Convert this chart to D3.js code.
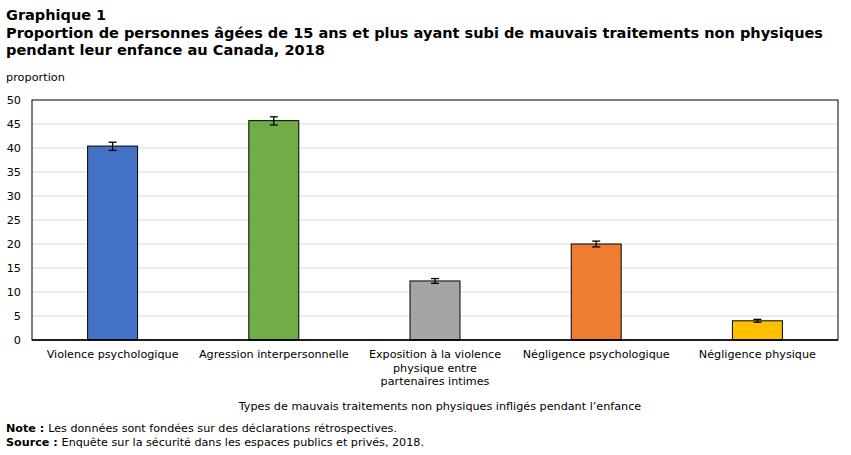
<!DOCTYPE html>
<html><head><meta charset="utf-8">
<script src="https://cdn.jsdelivr.net/npm/d3@7"></script>
<style>body{margin:0;background:#fff;} text{font-family:"DejaVu Sans",Verdana,sans-serif;fill:#000;}</style>
</head><body>
<svg id="c" width="851" height="455"></svg>
<script>
const categories = ["Violence psychologique","Agression interpersonnelle","Exposition à la violence|physique entre|partenaires intimes","Négligence psychologique","Négligence physique"];
const values = [40.4, 45.7, 12.3, 20.0, 4.0];
const errLow = [39.5, 44.8, 11.8, 19.4, 3.7];
const errHigh = [41.2, 46.5, 12.8, 20.6, 4.3];
const colors = ["#4472c4","#70ad47","#a5a5a5","#ed7d31","#ffc000"];
const yTicks = [0,5,10,15,20,25,30,35,40,45,50];

const svg = d3.select("#c");
const L=32, R=838, T=100, B=340;
const x = d3.scaleBand().domain(d3.range(categories.length)).range([L,R]).paddingInner(0.69).paddingOuter(0.345);
const y = d3.scaleLinear().domain([0,50]).range([B,T]);

// titles
svg.append("text").attr("x",6).attr("y",20).attr("font-size",14.5).attr("font-weight","bold").text("Graphique 1");
svg.append("text").attr("x",6).attr("y",38).attr("font-size",14.5).attr("font-weight","bold").attr("textLength",817).attr("lengthAdjust","spacingAndGlyphs").text("Proportion de personnes âgées de 15 ans et plus ayant subi de mauvais traitements non physiques");
svg.append("text").attr("x",6).attr("y",55).attr("font-size",14.5).attr("font-weight","bold").attr("textLength",319).attr("lengthAdjust","spacingAndGlyphs").text("pendant leur enfance au Canada, 2018");
svg.append("text").attr("x",6).attr("y",81).attr("font-size",11.3).text("proportion");

// gridlines
svg.append("g").selectAll("line").data(yTicks.filter(d=>d>0&&d<50)).join("line")
  .attr("x1",L).attr("x2",R).attr("y1",d=>y(d)).attr("y2",d=>y(d)).attr("stroke","#d9d9d9").attr("stroke-width",1);

// y axis labels
const ya = svg.append("g").attr("transform",`translate(${L},0)`).call(d3.axisLeft(y).tickValues(yTicks).tickSize(0).tickPadding(11));
ya.select(".domain").remove();
ya.selectAll("text").attr("font-size",11.3).attr("font-family","DejaVu Sans");

// bars
svg.append("g").selectAll("rect").data(values).join("rect")
  .attr("x",(d,i)=>x(i)).attr("width",x.bandwidth()).attr("y",d=>y(d)).attr("height",d=>B-y(d))
  .attr("fill",(d,i)=>colors[i]).attr("stroke","#000").attr("stroke-width",1);

// error bars
const eg = svg.append("g").attr("stroke","#000").attr("stroke-width",1.3);
values.forEach((v,i)=>{
  const cx = x(i)+x.bandwidth()/2;
  eg.append("line").attr("x1",cx).attr("x2",cx).attr("y1",y(errLow[i])).attr("y2",y(errHigh[i]));
  eg.append("line").attr("x1",cx-4).attr("x2",cx+4).attr("y1",y(errLow[i])).attr("y2",y(errLow[i]));
  eg.append("line").attr("x1",cx-4).attr("x2",cx+4).attr("y1",y(errHigh[i])).attr("y2",y(errHigh[i]));
});

// frame
svg.append("rect").attr("x",L).attr("y",T).attr("width",R-L).attr("height",B-T).attr("fill","none").attr("stroke","#000").attr("stroke-width",1);
svg.append("line").attr("x1",L).attr("x2",R).attr("y1",B).attr("y2",B).attr("stroke","#000").attr("stroke-width",1.5);

// x labels
const xg = svg.append("g");
categories.forEach((c,i)=>{
  const cx = x(i)+x.bandwidth()/2;
  const t = xg.append("text").attr("x",cx).attr("y",358).attr("text-anchor","middle").attr("font-size",11.2);
  c.split("|").forEach((ln,j)=>t.append("tspan").attr("x",cx).attr("dy",j?13.5:0).text(ln));
});

svg.append("text").attr("x",440).attr("y",410).attr("text-anchor","middle").attr("font-size",11.2).text("Types de mauvais traitements non physiques infligés pendant l’enfance");

const n1 = svg.append("text").attr("x",6).attr("y",432).attr("font-size",10.8).attr("textLength",391).attr("lengthAdjust","spacingAndGlyphs");
n1.append("tspan").attr("font-weight","bold").text("Note : ");
n1.append("tspan").text("Les données sont fondées sur des déclarations rétrospectives.");
const n2 = svg.append("text").attr("x",6).attr("y",446).attr("font-size",10.8).attr("textLength",418).attr("lengthAdjust","spacingAndGlyphs");
n2.append("tspan").attr("font-weight","bold").text("Source : ");
n2.append("tspan").text("Enquête sur la sécurité dans les espaces publics et privés, 2018.");
</script>
</body></html>
